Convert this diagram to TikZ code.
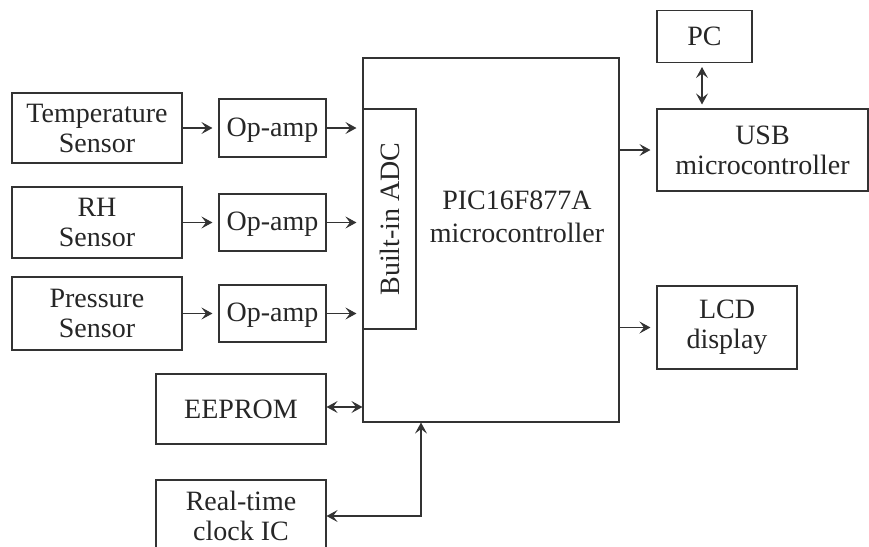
\documentclass[tikz,border=0pt]{standalone}
\usepackage{fontspec}
\setmainfont{Liberation Serif}
\usetikzlibrary{arrows.meta}

\begin{document}
\begin{tikzpicture}[x=1pt,y=-1pt,
    blk/.style={draw=black!80, line width=1.1pt, text=black!85, align=center, inner sep=0pt,
        font=\fontsize{28}{30}\selectfont},
    conn/.style={draw=black!80, line width=1.1pt, -{Stealth[length=11pt,width=12pt,inset=4.5pt]}},
    dconn/.style={draw=black!80, line width=1.1pt, {Stealth[length=11pt,width=12pt,inset=4.5pt]}-{Stealth[length=11pt,width=12pt,inset=4.5pt]}}]
\useasboundingbox (0,0) rectangle (869,546);

    % Sensors
\node[blk, minimum width=170, minimum height=70] (TS) at (97,128) {Temperature\\Sensor};
\node[blk, minimum width=170, minimum height=71] (RH) at (97,222.5) {RH\\Sensor};
\node[blk, minimum width=170, minimum height=73] (PS) at (97,313.5) {Pressure\\Sensor};

    % Op-amps
\node[blk, minimum width=107, minimum height=58, text depth=2pt] (OA1) at (272.5,128) {Op-amp};
\node[blk, minimum width=107, minimum height=57, text depth=2pt] (OA2) at (272.5,222.5) {Op-amp};
\node[blk, minimum width=107, minimum height=57, text depth=2pt] (OA3) at (272.5,313.5) {Op-amp};

    % PIC microcontroller + ADC
\node[blk, minimum width=256, minimum height=364] (MC) at (491,240) {};
\node[blk, minimum width=220, minimum height=53, rotate=90] (ADC) at (389.5,219) {Built-in ADC};
\node[text=black!85, align=center, font=\fontsize{28}{33}\selectfont] (MCtxt) at (517,217) {PIC16F877A\\microcontroller};

    % Memory and clock
\node[blk, minimum width=170, minimum height=70] (EE) at (241,409) {EEPROM};
\node[blk, minimum width=170, minimum height=72] (RTC) at (241,516) {Real-time\\clock IC};

    % Outputs
\node[blk, minimum width=95, minimum height=52] (PC) at (704.5,36.5) {PC};
\node[blk, minimum width=211, minimum height=82] (USB) at (762.5,150) {USB\\microcontroller};
\node[blk, minimum width=140, minimum height=83] (LCD) at (727,327.5) {LCD\\display};

    % Connections
\foreach \s/\o in {TS/OA1, RH/OA2, PS/OA3}{
    \draw[conn, shorten >=6pt] (\s.east) -- (\o.west);
    \draw[conn, shorten >=6pt] (\o.east) -- (\o.east -| MC.west);
}
\draw[conn, shorten >=6pt] (USB.west -| MC.east) -- (USB.west);
\draw[conn, shorten >=6pt] (LCD.west -| MC.east) -- (LCD.west);
\draw[dconn, shorten <=4pt, shorten >=4pt] (PC.south -| 702,0) -- (USB.north -| 702,0);
\draw[dconn] (EE.east |- 0,407) -- (MC.west |- 0,407);
\coordinate (clk) at ([xshift=-70pt]MC.south);
\draw[dconn] (RTC.east) -| (clk);

\end{tikzpicture}
\end{document}
